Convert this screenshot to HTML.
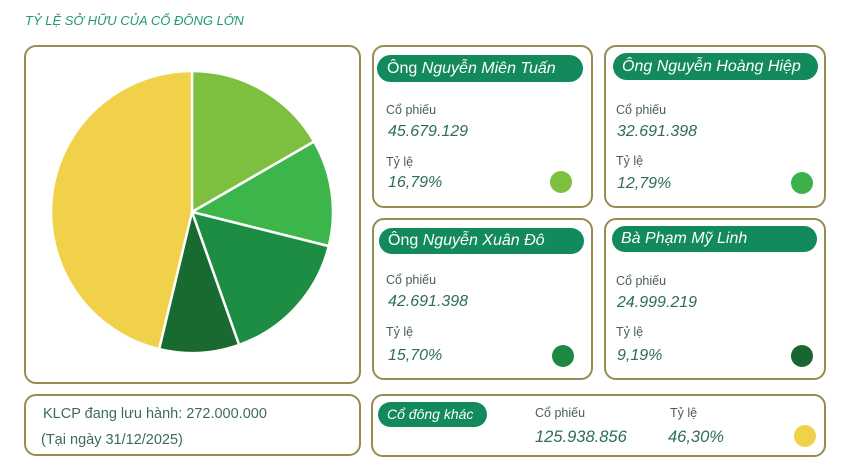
<!DOCTYPE html>
<html><head><meta charset="utf-8">
<style>
*{margin:0;padding:0;box-sizing:border-box}
body{width:853px;height:468px;background:#fff;position:relative;overflow:hidden;font-family:"Liberation Sans","Noto Sans CJK SC",sans-serif}
.a{position:absolute;white-space:nowrap}
.box{position:absolute;border:2px solid #978c4f;border-radius:12px;background:#fff}
.pill{position:absolute;background:#138a5c;border-radius:14px;color:#fff;font-size:16px;white-space:nowrap}
.lbl{position:absolute;font-size:12.5px;color:#4b5e57;line-height:16px;white-space:nowrap}
.val{position:absolute;font-size:16px;font-style:italic;color:#2f6c59;line-height:20px;white-space:nowrap}
.dot{position:absolute;width:22px;height:22px;border-radius:50%}
i{font-style:italic}
</style></head><body>
<div class="a" style="left:25px;top:13px;font-size:13px;line-height:16px;font-style:italic;color:#22977a">TỶ LỆ SỞ HỮU CỦA CỔ ĐÔNG LỚN</div>

<div class="box" style="left:24px;top:45px;width:337px;height:339px"></div>
<svg class="a" style="left:0;top:0" width="853" height="468" viewBox="0 0 853 468">
<g stroke="#fff" stroke-width="2.5" stroke-linejoin="round">
<path d="M192 212 L192 71 A141 141 0 0 1 314.1 141.5 Z" fill="#7dbf3f"/>
<path d="M192 212 L314.1 141.5 A141 141 0 0 1 328.8 246.1 Z" fill="#3cb54b"/>
<path d="M192 212 L328.8 246.1 A141 141 0 0 1 239.1 344.9 Z" fill="#1c8d43"/>
<path d="M192 212 L239.1 344.9 A141 141 0 0 1 159.1 349.1 Z" fill="#196a31"/>
<path d="M192 212 L159.1 349.1 A141 141 0 0 1 192 71 Z" fill="#f2d14a"/>
</g>
</svg>

<!-- Card 1 -->
<div class="box" style="left:372px;top:45px;width:221px;height:163px"></div>
<div class="pill" style="left:377px;top:55px;width:206px;height:27px;line-height:27px;padding-left:10px">Ông <i>Nguyễn Miên Tuấn</i></div>
<div class="lbl" style="left:386px;top:102px">Cổ phiếu</div>
<div class="val" style="left:388px;top:122px">45.679.129</div>
<div class="lbl" style="left:386px;top:154px">Tỷ lệ</div>
<div class="val" style="left:388px;top:173px">16,79%</div>
<div class="dot" style="left:550px;top:171px;background:#7dbf3f"></div>

<!-- Card 2 -->
<div class="box" style="left:604px;top:45px;width:222px;height:163px"></div>
<div class="pill" style="left:613px;top:53px;width:205px;height:27px;line-height:27px;padding-left:9px"><i>Ông Nguyễn Hoàng Hiệp</i></div>
<div class="lbl" style="left:616px;top:102px">Cổ phiếu</div>
<div class="val" style="left:617px;top:122px">32.691.398</div>
<div class="lbl" style="left:616px;top:153px">Tỷ lệ</div>
<div class="val" style="left:617px;top:174px">12,79%</div>
<div class="dot" style="left:791px;top:172px;background:#3cb14a"></div>

<!-- Card 3 -->
<div class="box" style="left:372px;top:218px;width:221px;height:162px"></div>
<div class="pill" style="left:379px;top:228px;width:205px;height:26px;line-height:26px;padding-left:9px">Ông <i>Nguyễn Xuân Đô</i></div>
<div class="lbl" style="left:386px;top:272px">Cổ phiếu</div>
<div class="val" style="left:388px;top:292px">42.691.398</div>
<div class="lbl" style="left:386px;top:324px">Tỷ lệ</div>
<div class="val" style="left:388px;top:346px">15,70%</div>
<div class="dot" style="left:552px;top:345px;background:#1b8a40"></div>

<!-- Card 4 -->
<div class="box" style="left:604px;top:218px;width:222px;height:162px"></div>
<div class="pill" style="left:612px;top:226px;width:205px;height:26px;line-height:26px;padding-left:9px"><i>Bà Phạm Mỹ Linh</i></div>
<div class="lbl" style="left:616px;top:273px">Cổ phiếu</div>
<div class="val" style="left:617px;top:293px">24.999.219</div>
<div class="lbl" style="left:616px;top:324px">Tỷ lệ</div>
<div class="val" style="left:617px;top:346px">9,19%</div>
<div class="dot" style="left:791px;top:345px;background:#1a6630"></div>

<!-- Bottom left -->
<div class="box" style="left:24px;top:394px;width:337px;height:62px"></div>
<div class="a" style="left:43px;top:405px;font-size:14.5px;line-height:18px;color:#3d6b5b">KLCP đang lưu hành: 272.000.000</div>
<div class="a" style="left:41px;top:431px;font-size:14.5px;line-height:18px;color:#3d6b5b">(Tại ngày 31/12/2025)</div>

<!-- Bottom right -->
<div class="box" style="left:371px;top:394px;width:455px;height:63px"></div>
<div class="pill" style="left:378px;top:402px;width:109px;height:25px;line-height:25px;padding-left:9px;font-size:14px;border-radius:13px"><i>Cổ đông khác</i></div>
<div class="lbl" style="left:535px;top:405px">Cổ phiếu</div>
<div class="val" style="left:535px;top:427px;font-size:16.5px">125.938.856</div>
<div class="lbl" style="left:670px;top:405px">Tỷ lệ</div>
<div class="val" style="left:668px;top:427px;font-size:16.5px">46,30%</div>
<div class="dot" style="left:794px;top:425px;background:#f2d14a"></div>
</body></html>
